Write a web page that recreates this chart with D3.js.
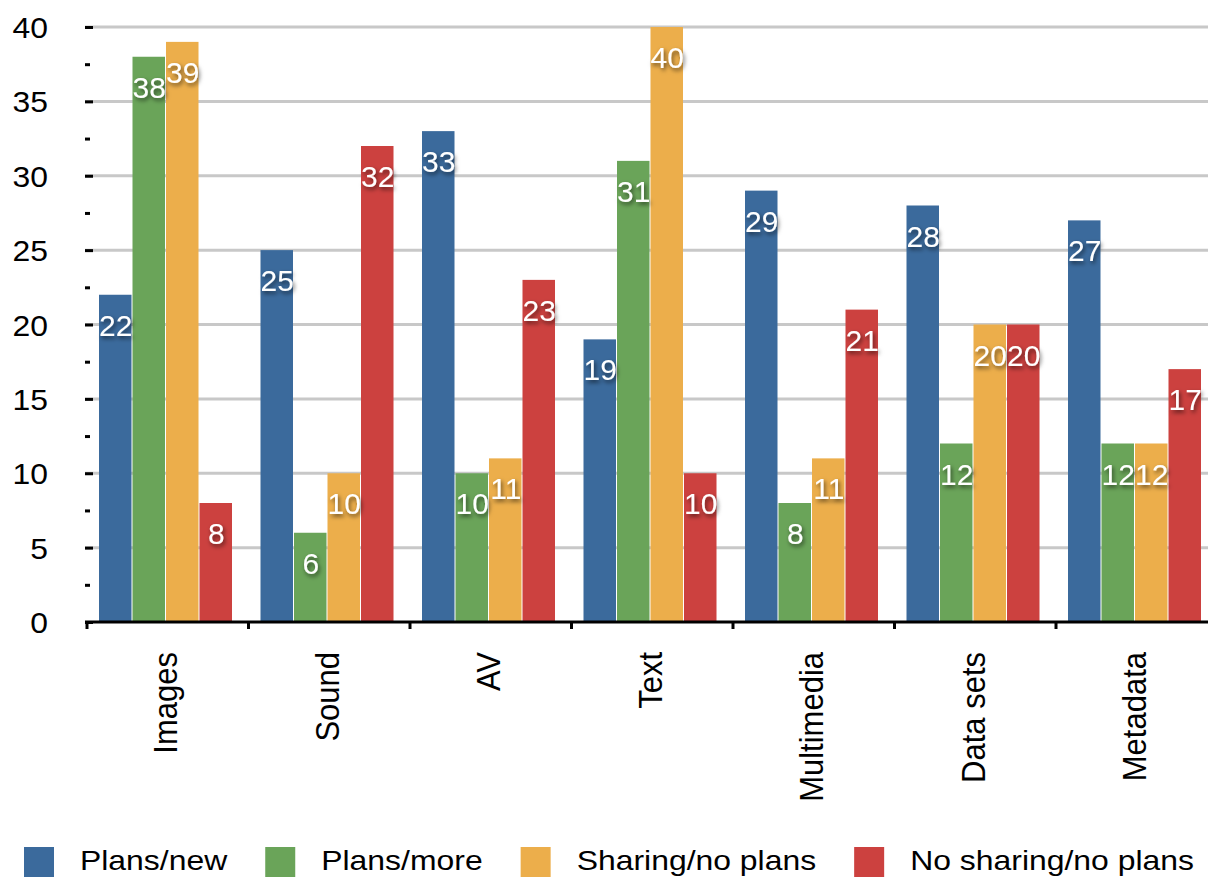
<!DOCTYPE html>
<html>
<head>
<meta charset="utf-8">
<script src="https://cdn.jsdelivr.net/npm/d3@7"></script>
<style>
  html, body { margin: 0; padding: 0; background: #fff; }
  svg { display: block; }
</style>
</head>
<body>
<svg id="chart" width="1208" height="877"></svg>
<script>
const categories = ["Images", "Sound", "AV", "Text", "Multimedia", "Data sets", "Metadata"];
const seriesNames = ["Plans/new", "Plans/more", "Sharing/no plans", "No sharing/no plans"];
const plansNew     = [22, 25, 33, 19, 29, 28, 27];
const plansMore    = [38, 6, 10, 31, 8, 12, 12];
const sharingNo    = [39, 10, 11, 40, 11, 20, 12];
const noSharingNo  = [8, 32, 23, 10, 21, 20, 17];
const seriesColors = ["#3b6a9c", "#6aa459", "#ecae4b", "#cc413f"];
const yTicks = [0, 5, 10, 15, 20, 25, 30, 35, 40];
const yMinorTicks = [2.5, 7.5, 12.5, 17.5, 22.5, 27.5, 32.5, 37.5];

const seriesValues = [plansNew, plansMore, sharingNo, noSharingNo];

const W = 1208, H = 877;
const font = "Liberation Sans, Arial, Helvetica, sans-serif";

const svg = d3.select("#chart");

const defs = svg.append("defs");
const f = defs.append("filter").attr("id", "shadow")
  .attr("x", "-30%").attr("y", "-30%").attr("width", "160%").attr("height", "160%");
f.append("feDropShadow").attr("dx", 1.5).attr("dy", 2.5).attr("stdDeviation", 2)
  .attr("flood-color", "#000").attr("flood-opacity", 0.6);

const step = 161.5;
const x0 = d3.scaleBand().domain(categories).range([87, 87 + step * categories.length]).padding(0);
const groupOffset = 12;
const x1 = d3.scaleBand().domain(seriesNames).range([0, 134]).padding(0);
const y = d3.scaleLinear().domain([0, 40]).range([622, 27]);

// Gridlines
svg.append("g").selectAll("line").data(yTicks.filter(t => t > 0)).join("line")
  .attr("x1", 85).attr("x2", W)
  .attr("y1", d => y(d)).attr("y2", d => y(d))
  .attr("stroke", "#c8c8c8").attr("stroke-width", 3);

// Y axis tick marks via d3.axisLeft
const yAxis = svg.append("g").attr("transform", "translate(93,0)")
  .call(d3.axisLeft(y).tickValues(yTicks).tickSize(8).tickFormat(""));
yAxis.select(".domain").remove();
yAxis.selectAll(".tick line").attr("stroke", "#000").attr("stroke-width", 3);

const yMinor = svg.append("g").attr("transform", "translate(90,0)")
  .call(d3.axisLeft(y).tickValues(yMinorTicks).tickSize(5).tickFormat(""));
yMinor.select(".domain").remove();
yMinor.selectAll(".tick line").attr("stroke", "#000").attr("stroke-width", 3);

svg.append("g").selectAll("text").data(yTicks).join("text")
  .attr("transform", d => `translate(48,${y(d) + 11}) scale(1.08,1)`)
  .attr("text-anchor", "end")
  .attr("font-family", font).attr("font-size", 29.5).attr("fill", "#000")
  .text(d => d);

// Bars
const groups = svg.append("g").selectAll("g").data(categories).join("g")
  .attr("transform", c => `translate(${x0(c) + groupOffset},0)`);

groups.selectAll("rect").data((c, i) => seriesNames.map((s, j) => ({ s, v: seriesValues[j][i], j })))
  .join("rect")
  .attr("x", d => x1(d.s))
  .attr("width", x1.bandwidth() - 1)
  .attr("y", d => y(d.v))
  .attr("height", d => y(0) - y(d.v))
  .attr("fill", d => seriesColors[d.j]);

// X axis line + ticks
const xAxis = svg.append("g").attr("transform", `translate(0,${y(0)})`);
xAxis.append("line").attr("x1", 85).attr("x2", W).attr("y1", 0).attr("y2", 0)
  .attr("stroke", "#000").attr("stroke-width", 3);
const boundaries = categories.map(c => x0(c)).concat([x0(categories[categories.length - 1]) + x0.bandwidth()]);
xAxis.selectAll("line.tk").data(boundaries).join("line").attr("class", "tk")
  .attr("x1", d => d).attr("x2", d => d).attr("y1", 0).attr("y2", 7)
  .attr("stroke", "#000").attr("stroke-width", 3);

// Data labels
groups.selectAll("text").data((c, i) => seriesNames.map((s, j) => ({ s, v: seriesValues[j][i], j })))
  .join("text")
  .attr("x", d => x1(d.s) + x1.bandwidth() / 2)
  .attr("y", d => y(d.v) + 41)
  .attr("text-anchor", "middle")
  .attr("font-family", font).attr("font-size", 30).attr("fill", "#fff")
  .attr("filter", "url(#shadow)")
  .text(d => d.v);

// Category labels (rotated)
svg.append("g").selectAll("text").data(categories).join("text")
  .attr("transform", c => `translate(${x0(c) + groupOffset + 67 + 11},652) scale(1.1,1) rotate(-90)`)
  .attr("text-anchor", "end")
  .attr("font-family", font).attr("font-size", 31).attr("fill", "#000")
  .text(c => c);

// Legend
const legend = svg.append("g");
let lx = 24;
const lScale = 1.12;
seriesNames.forEach((s, j) => {
  legend.append("rect").attr("x", lx).attr("y", 847).attr("width", 30).attr("height", 30)
    .attr("fill", seriesColors[j]);
  const t = legend.append("text")
    .attr("transform", `translate(${lx + 56},870) scale(${lScale},1)`)
    .attr("font-family", font).attr("font-size", 28.5).attr("fill", "#000")
    .text(s);
  const w = t.node().getComputedTextLength() * lScale;
  lx = lx + 56 + w + 38;
});
</script>
</body>
</html>
